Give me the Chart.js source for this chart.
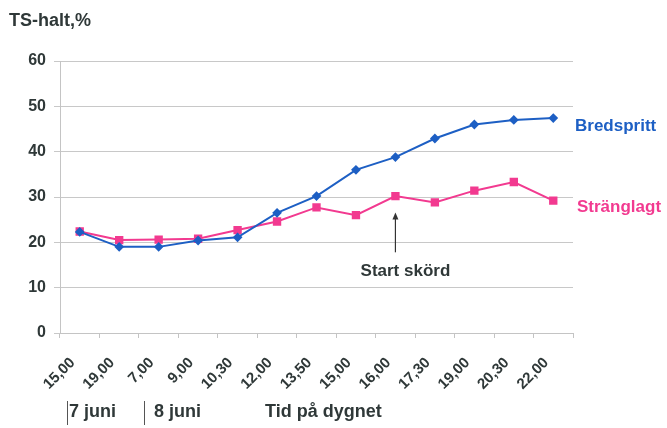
<!DOCTYPE html>
<html>
<head>
<meta charset="utf-8">
<script src="https://cdn.jsdelivr.net/npm/chart.js@4/dist/chart.umd.min.js"></script>
<style>
  html, body { margin: 0; padding: 0; background: #fff; }
  #wrap { width: 667px; height: 428px; }
</style>
</head>
<body>
<div id="wrap"><canvas id="myChart" width="667" height="428"></canvas></div>
<script>
// time of day labels (7-8 juni)
const timeLabels = ["15,00", "19,00", "7,00", "9,00", "10,30", "12,00", "13,50", "15,00", "16,00", "17,30", "19,00", "20,30", "22,00"];
// TS-halt in %
const bredspritt = [22.3, 19.0, 19.0, 20.4, 21.1, 26.5, 30.2, 36.0, 38.8, 42.9, 46.0, 47.0, 47.4];
const stranglagt = [22.4, 20.5, 20.6, 20.8, 22.7, 24.6, 27.7, 26.0, 30.2, 28.8, 31.4, 33.3, 29.2];
const yTicks = [0, 10, 20, 30, 40, 50, 60];

const blue = "#1d5fc4";
const pink = "#f23a90";
const textCol = "#2f3838";
const FONT = "'Liberation Sans', Arial, sans-serif";

// end labels, the "Start skörd" arrow and the date row below the axis
const extras = {
  id: "extras",
  afterDraw(chart) {
    const ctx = chart.ctx;
    const xs = chart.scales.x;
    const ys = chart.scales.y;
    ctx.save();
    ctx.font = "bold 18px " + FONT;
    ctx.fillStyle = textCol;
    ctx.textBaseline = "middle";
    ctx.textAlign = "left";
    ctx.fillText("TS-halt,%", 9, 21);

    // series names at line ends
    ctx.font = "bold 17px " + FONT;
    ctx.fillStyle = blue;
    ctx.fillText("Bredspritt", 575, 126);
    ctx.fillStyle = pink;
    ctx.fillText("Stränglagt", 577, 207);

    // arrow at start of harvest
    const ax = xs.getPixelForValue(8);
    const yBot = ys.getPixelForValue(17.8);
    const yTop = ys.getPixelForValue(26.6);
    ctx.strokeStyle = "#333";
    ctx.fillStyle = "#333";
    ctx.lineWidth = 1.2;
    ctx.beginPath();
    ctx.moveTo(ax, yBot);
    ctx.lineTo(ax, yTop + 4);
    ctx.stroke();
    ctx.beginPath();
    ctx.moveTo(ax, yTop);
    ctx.lineTo(ax - 3, yTop + 7);
    ctx.lineTo(ax + 3, yTop + 7);
    ctx.closePath();
    ctx.fill();
    ctx.font = "bold 17px " + FONT;
    ctx.fillStyle = textCol;
    ctx.textAlign = "center";
    ctx.fillText("Start skörd", ax + 10, ys.getPixelForValue(13.6));

    // date row
    ctx.textAlign = "left";
    ctx.font = "bold 18px " + FONT;
    ctx.fillText("7 juni", 69, 412);
    ctx.fillText("8 juni", 154, 412);
    ctx.fillText("Tid på dygnet", 265, 412);
    ctx.strokeStyle = "#555";
    ctx.lineWidth = 1;
    ctx.beginPath();
    ctx.moveTo(67.5, 401); ctx.lineTo(67.5, 425);
    ctx.moveTo(144.5, 401); ctx.lineTo(144.5, 425);
    ctx.stroke();
    ctx.restore();
  }
};

const ctx = document.getElementById("myChart").getContext("2d");
new Chart(ctx, {
  type: "line",
  data: {
    labels: timeLabels,
    datasets: [
      {
        label: "Bredspritt",
        data: bredspritt,
        borderColor: blue,
        backgroundColor: blue,
        borderWidth: 2,
        pointStyle: "rectRot",
        pointRadius: 3.5,
        tension: 0
      },
      {
        label: "Stränglagt",
        data: stranglagt,
        borderColor: pink,
        backgroundColor: pink,
        borderWidth: 2,
        pointStyle: "rect",
        pointRadius: 4.5,
        tension: 0
      }
    ]
  },
  options: {
    responsive: false,
    animation: false,
    layout: { padding: { left: 0, right: 94, top: 61, bottom: 0 } },
    plugins: {
      legend: { display: false },
      tooltip: { enabled: false }
    },
    scales: {
      x: {
        offset: true,
        grid: {
          offset: true,
          drawOnChartArea: false,
          drawTicks: true,
          tickLength: 5,
          color: "#c4c4c4"
        },
        border: { color: "#c4c4c4", width: 1 },
        ticks: {
          maxRotation: 45,
          minRotation: 45,
          autoSkip: false,
          padding: 16,
          labelOffset: -7,
          color: textCol,
          font: { family: FONT, size: 15, weight: "bold" }
        },
        afterFit(scale) { scale.height = 95; }
      },
      y: {
        min: 0,
        max: 60,
        afterBuildTicks(scale) { scale.ticks = yTicks.map(v => ({ value: v })); },
        grid: {
          color: "#c8c8c8",
          tickLength: 6,
          lineWidth: 1
        },
        border: { color: "#c4c4c4", width: 1 },
        ticks: {
          padding: 8,
          color: textCol,
          font: { family: FONT, size: 16, weight: "bold" }
        },
        afterFit(scale) { scale.width = 60; }
      }
    }
  },
  plugins: [extras]
});
</script>
</body>
</html>
